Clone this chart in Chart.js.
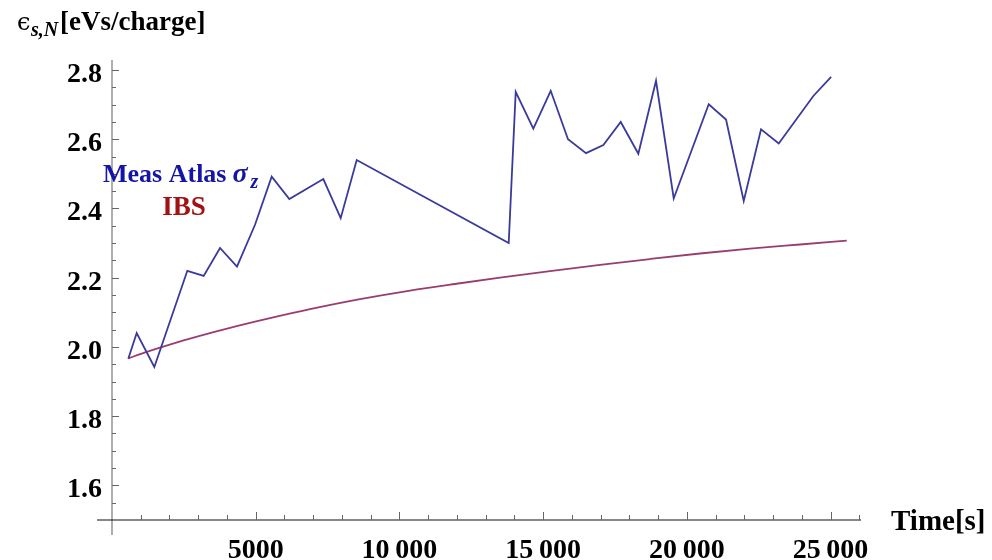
<!DOCTYPE html>
<html>
<head>
<meta charset="utf-8">
<script src="https://cdn.jsdelivr.net/npm/chart.js@4"></script>
<style>
	html, body { margin: 0; padding: 0; background: #fff; }
	#wrap { width: 992px; height: 560px; position: relative; }
</style>
</head>
<body>
<div id="wrap"><canvas id="chart" width="992" height="560"></canvas></div>
<script>
// measured bunch length emittance (Atlas) vs time
const timeMeas = [567, 859, 1473, 2621, 3190, 3758, 4349, 4976, 5556, 6170, 7353, 7957, 8514,
	13803, 14046, 14659, 15264, 15866, 16493, 17095, 17700, 18313, 18928, 19544, 20762,
	21364, 21980, 22582, 23198, 24402, 25021]
const emitMeas = [1.966, 2.040, 1.942, 2.220, 2.205, 2.286, 2.232, 2.353, 2.492, 2.427, 2.485, 2.372, 2.540,
	2.300, 2.737, 2.631, 2.740, 2.600, 2.560, 2.583, 2.650, 2.558, 2.769, 2.429, 2.701,
	2.657, 2.422, 2.629, 2.588, 2.725, 2.780]

// IBS prediction
const timeIBS = [567, 1183, 1670, 2714, 4106, 5498, 6889, 8629, 10369, 12109, 13500, 15240,
	16980, 18720, 20459, 22199, 23939, 25563]
const emitIBS = [1.967, 1.985, 1.998, 2.024, 2.055, 2.083, 2.109, 2.138, 2.163, 2.184, 2.200, 2.219,
	2.237, 2.254, 2.270, 2.284, 2.296, 2.307]

// axes
const xMajor = [5000, 10000, 15000, 20000, 25000]
const xLabels = ["5000", "10\u2009000", "15\u2009000", "20\u2009000", "25\u2009000"]
const xMinor = [1000, 2000, 3000, 4000, 6000, 7000, 8000, 9000, 11000, 12000, 13000, 14000,
	16000, 17000, 18000, 19000, 21000, 22000, 23000, 24000, 26000]
const yMajor = [1.6, 1.8, 2.0, 2.2, 2.4, 2.6, 2.8]
const yLabels = ["1.6", "1.8", "2.0", "2.2", "2.4", "2.6", "2.8"]
const yMinor = [1.55, 1.65, 1.7, 1.75, 1.85, 1.9, 1.95, 2.05, 2.1, 2.15, 2.25, 2.3, 2.35,
	2.45, 2.5, 2.55, 2.65, 2.7, 2.75]

const toPoints = (xs, ys) => xs.map((x, i) => ({ x: x, y: ys[i] }))

const serif = "'Liberation Serif', 'DejaVu Serif', serif"

const axesPlugin = {
	id: "mmaAxes",
	afterDraw(chart) {
		const c = chart.ctx
		const xs = chart.scales.x
		const ys = chart.scales.y
		const x0 = xs.getPixelForValue(0)
		const y0 = ys.getPixelForValue(1.5)
		c.save()

		// axis lines
		c.lineWidth = 1.2
		c.strokeStyle = "#777"
		c.beginPath()
		c.moveTo(x0, chart.chartArea.top)
		c.lineTo(x0, y0 + 15)
		c.stroke()
		c.strokeStyle = "#111"
		c.beginPath()
		c.moveTo(x0 - 15, y0)
		c.lineTo(chart.chartArea.right, y0)
		c.stroke()

		// ticks (inward)
		c.strokeStyle = "#666"
		c.lineWidth = 1
		c.beginPath()
		xMajor.forEach(v => { const p = Math.round(xs.getPixelForValue(v)) + 0.5; c.moveTo(p, y0); c.lineTo(p, y0 - 8) })
		xMinor.forEach(v => { const p = Math.round(xs.getPixelForValue(v)) + 0.5; c.moveTo(p, y0); c.lineTo(p, y0 - 5) })
		yMajor.forEach(v => { const p = Math.round(ys.getPixelForValue(v)) + 0.5; c.moveTo(x0, p); c.lineTo(x0 + 7, p) })
		yMinor.forEach(v => { const p = Math.round(ys.getPixelForValue(v)) + 0.5; c.moveTo(x0, p); c.lineTo(x0 + 4, p) })
		c.stroke()

		// tick labels
		c.fillStyle = "#000"
		c.font = "bold 28px " + serif
		c.textAlign = "center"
		c.textBaseline = "alphabetic"
		xMajor.forEach((v, i) => c.fillText(xLabels[i], xs.getPixelForValue(v), 558))
		c.textAlign = "right"
		yMajor.forEach((v, i) => c.fillText(yLabels[i], x0 - 10, ys.getPixelForValue(v) + 12))

		// axis titles
		c.textAlign = "left"
		c.font = "bold 29px " + serif
		c.fillText("Time[s]", 891, 530)
		c.font = "24px 'DejaVu Serif', serif"
		c.fillText("\u03f5", 17, 30)
		c.font = "italic bold 20px " + serif
		c.fillText("s,N", 31, 36)
		c.font = "bold 27px " + serif
		c.fillText("[eVs/charge]", 60, 30)

		// legend labels
		c.font = "bold 26px " + serif
		c.fillStyle = "#1414a6"
		c.fillText("Meas Atlas", 103, 182)
		const sx = 103 + c.measureText("Meas Atlas").width + 6
		c.font = "italic bold 28px " + serif
		c.fillText("\u03c3", sx, 182)
		c.font = "italic bold 20px " + serif
		c.fillText("z", sx + 18, 188)
		c.font = "bold 27px " + serif
		c.fillStyle = "#a31212"
		c.textAlign = "center"
		c.fillText("IBS", 184, 215)

		c.restore()
	}
}

new Chart(document.getElementById("chart"), {
	type: "scatter",
	data: {
		datasets: [
			{
				label: "Meas Atlas",
				data: toPoints(timeMeas, emitMeas),
				showLine: true,
				borderColor: "#3a3a9c",
				borderWidth: 1.8,
				pointRadius: 0,
				tension: 0,
			},
			{
				label: "IBS",
				data: toPoints(timeIBS, emitIBS),
				showLine: true,
				borderColor: "#993d71",
				borderWidth: 1.8,
				pointRadius: 0,
				cubicInterpolationMode: "monotone",
			},
		],
	},
	plugins: [axesPlugin],
	options: {
		responsive: false,
		animation: false,
		devicePixelRatio: 1,
		layout: { padding: { left: 112, right: 131, top: 60, bottom: 40 } },
		plugins: { legend: { display: false }, tooltip: { enabled: false } },
		scales: {
			x: { type: "linear", min: 0, max: 26060, display: false },
			y: { type: "linear", min: 1.5, max: 2.829, display: false },
		},
	},
})
</script>
</body>
</html>
